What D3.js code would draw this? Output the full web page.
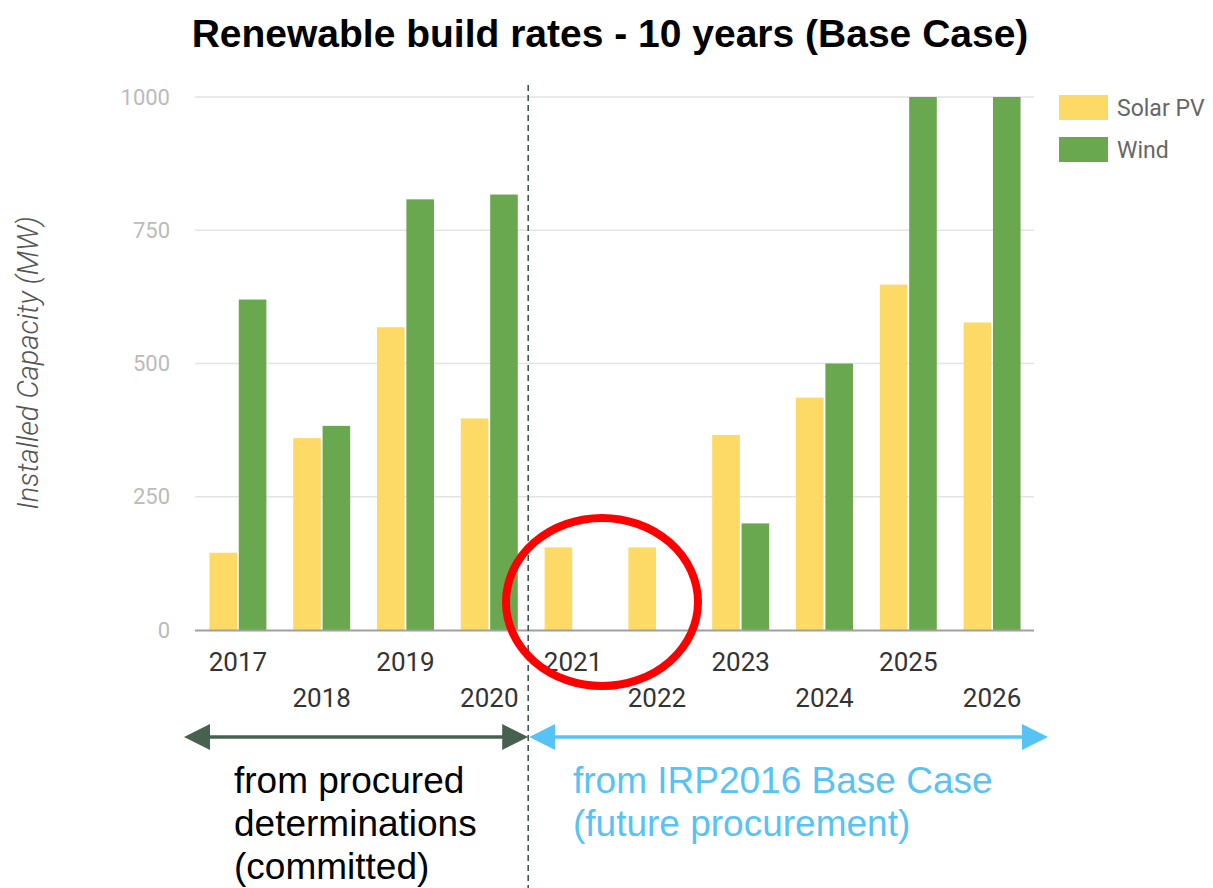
<!DOCTYPE html>
<html>
<head>
<meta charset="utf-8">
<script src="https://cdn.jsdelivr.net/npm/d3@7"></script>
<style>
  body { margin: 0; background: #fff; }
  svg { display: block; }
</style>
</head>
<body>
<div id="chart"></div>
<script>
// data
var years = ["2017", "2018", "2019", "2020", "2021", "2022", "2023", "2024", "2025", "2026"];
var solarPV = [145, 360, 568, 397, 155, 155, 366, 436, 648, 577];
var wind = [620, 383, 808, 817, 0, 0, 200, 500, 1000, 1000];
var seriesNames = ["Solar PV", "Wind"];
var yTicks = [0, 250, 500, 750, 1000];

var colors = ["#fdd966", "#6aa84f"];
var width = 1213, height = 888;

var svg = d3.select("#chart").append("svg")
    .attr("width", width)
    .attr("height", height);

var x0 = d3.scaleBand()
    .domain(years)
    .range([196, 1034])
    .paddingInner(0.32)
    .paddingOuter(0.16);

var x1 = d3.scaleBand()
    .domain(seriesNames)
    .range([0, x0.bandwidth()])
    .paddingInner(0.06);

var y = d3.scaleLinear()
    .domain([0, 1000])
    .range([630, 97]);

// title
svg.append("text")
    .attr("x", 610)
    .attr("y", 47)
    .attr("text-anchor", "middle")
    .style("font-family", "'Liberation Sans', Arial, sans-serif")
    .style("font-weight", "bold")
    .style("font-size", "39px")
    .style("fill", "#000")
    .text("Renewable build rates - 10 years (Base Case)");

// gridlines
svg.append("g")
    .selectAll("line")
    .data(yTicks.slice(1))
    .enter().append("line")
    .attr("x1", 195)
    .attr("x2", 1034)
    .attr("y1", function(d) { return y(d); })
    .attr("y2", function(d) { return y(d); })
    .style("stroke", "#e3e3e3")
    .style("stroke-width", 1.5);

// y axis labels
var yAxis = d3.axisLeft(y).tickValues(yTicks).tickFormat(d3.format("d")).tickSize(0).tickPadding(0);
var yg = svg.append("g")
    .attr("transform", "translate(170,0)")
    .call(yAxis);
yg.select(".domain").remove();
yg.selectAll("text")
    .style("font-family", "Roboto, sans-serif")
    .style("font-size", "22px")
    .style("fill", "#bbbbbb");

svg.append("text")
    .attr("transform", "translate(38,363) rotate(-90)")
    .attr("text-anchor", "middle")
    .style("font-family", "Roboto, sans-serif")
    .style("font-style", "italic")
    .style("font-weight", "300")
    .style("font-size", "29px")
    .style("fill", "#555")
    .text("Installed Capacity (MW)");

// bars
var rows = years.map(function(yr, i) {
    return { year: yr, values: [solarPV[i], wind[i]] };
});

var groups = svg.append("g")
    .selectAll("g")
    .data(rows)
    .enter().append("g")
    .attr("transform", function(d) { return "translate(" + x0(d.year) + ",0)"; });

groups.selectAll("rect")
    .data(function(d) {
        return d.values.map(function(v, i) { return { name: seriesNames[i], value: v, i: i }; });
    })
    .enter().append("rect")
    .attr("x", function(d) { return x1(d.name); })
    .attr("y", function(d) { return y(d.value); })
    .attr("width", x1.bandwidth())
    .attr("height", function(d) { return y(0) - y(d.value); })
    .style("fill", function(d) { return colors[d.i]; });

// baseline
svg.append("line")
    .attr("x1", 195)
    .attr("x2", 1034)
    .attr("y1", y(0) + 0.5)
    .attr("y2", y(0) + 0.5)
    .style("stroke", "#a0a0a0")
    .style("stroke-width", 2);

// x labels, staggered in two rows
svg.append("g")
    .selectAll("text")
    .data(years)
    .enter().append("text")
    .attr("x", function(d) { return x0(d) + x0.bandwidth() / 2; })
    .attr("y", function(d, i) { return i % 2 === 0 ? 671 : 707; })
    .attr("text-anchor", "middle")
    .style("font-family", "Roboto, sans-serif")
    .style("font-size", "26px")
    .style("fill", "#333")
    .text(function(d) { return d; });

// legend
var legend = svg.append("g")
    .selectAll("g")
    .data(seriesNames)
    .enter().append("g")
    .attr("transform", function(d, i) { return "translate(1059," + (95 + i * 42) + ")"; });
legend.append("rect")
    .attr("width", 49)
    .attr("height", 25)
    .style("fill", function(d, i) { return colors[i]; });
legend.append("text")
    .attr("x", 58)
    .attr("y", 21)
    .style("font-family", "Roboto, sans-serif")
    .style("font-size", "23px")
    .style("fill", "#666")
    .text(function(d) { return d; });

// divider between committed and future years
var divX = x0("2021") - x0.step() * x0.paddingInner() / 2 - 3;
svg.append("line")
    .attr("x1", divX)
    .attr("x2", divX)
    .attr("y1", 85)
    .attr("y2", height)
    .style("stroke", "#3f5a4a")
    .style("stroke-width", 1.6)
    .style("stroke-dasharray", "6,4");

// red circle annotation
svg.append("ellipse")
    .attr("cx", (x0("2021") + x0("2022") + x0.bandwidth()) / 2 - 13)
    .attr("cy", 602)
    .attr("rx", 96)
    .attr("ry", 84)
    .style("fill", "none")
    .style("stroke", "#ff0000")
    .style("stroke-width", 8);

// double arrows
function doubleArrow(xa, xb, yy, col) {
    var g = svg.append("g");
    var head = 26, half = 13;
    g.append("line")
        .attr("x1", xa + head - 2).attr("x2", xb - head + 2)
        .attr("y1", yy).attr("y2", yy)
        .style("stroke", col)
        .style("stroke-width", 3.5);
    g.append("path")
        .attr("d", "M" + xa + "," + yy + "L" + (xa + head) + "," + (yy - half) + "L" + (xa + head) + "," + (yy + half) + "Z")
        .style("fill", col);
    g.append("path")
        .attr("d", "M" + xb + "," + yy + "L" + (xb - head) + "," + (yy - half) + "L" + (xb - head) + "," + (yy + half) + "Z")
        .style("fill", col);
}
doubleArrow(184, divX, 737, "#476150");
doubleArrow(divX + 1, 1048, 737, "#57c3f4");

// captions
var leftLines = ["from procured", "determinations", "(committed)"];
var rightLines = ["from IRP2016 Base Case", "(future procurement)"];

svg.append("g")
    .selectAll("text")
    .data(leftLines)
    .enter().append("text")
    .attr("x", 234)
    .attr("y", function(d, i) { return 793 + i * 43; })
    .style("font-family", "'Liberation Sans', Arial, sans-serif")
    .style("font-size", "37px")
    .style("fill", "#000")
    .text(function(d) { return d; });

svg.append("g")
    .selectAll("text")
    .data(rightLines)
    .enter().append("text")
    .attr("x", 573)
    .attr("y", function(d, i) { return 793 + i * 43; })
    .style("font-family", "'Liberation Sans', Arial, sans-serif")
    .style("font-size", "37px")
    .style("fill", "#57c3f4")
    .text(function(d) { return d; });
</script>
</body>
</html>
